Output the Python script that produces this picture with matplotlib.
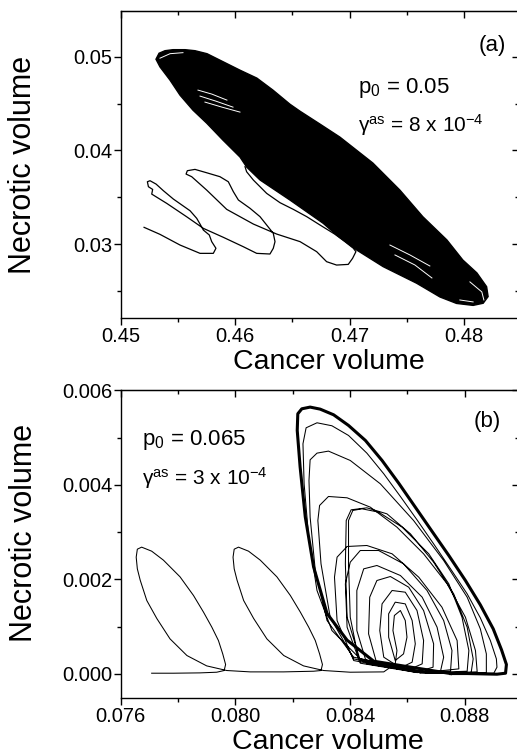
import matplotlib
matplotlib.use('Agg')
from matplotlib import pyplot as plt
from matplotlib.ticker import MultipleLocator, FormatStrFormatter, NullFormatter

plt.rcParams['font.family'] = ['Liberation Sans', 'DejaVu Sans']
plt.rcParams['mathtext.default'] = 'regular'

# ---- panel (a): p0 = 0.05, gamma_as = 8e-4 ----
# outline of the densely filled attractor band
band_a_cancer = [0.45308, 0.45335, 0.45387, 0.45457, 0.45562, 0.45649, 0.45754, 0.45893, 0.46042,
                 0.46190, 0.46330, 0.46478, 0.46566, 0.46741, 0.46915, 0.47203, 0.47439, 0.47640,
                 0.47850, 0.47989, 0.48112, 0.48197, 0.48210, 0.48167, 0.48079, 0.47934, 0.47789,
                 0.47585, 0.47293, 0.47061, 0.46886, 0.46769, 0.46478, 0.46217, 0.46100, 0.46042,
                 0.45893, 0.45751, 0.45631, 0.45518, 0.45431, 0.45343]
band_a_necrotic = [0.04975, 0.05039, 0.05066, 0.05077, 0.05077, 0.05066, 0.05034, 0.04949, 0.04858,
                   0.04773, 0.04645, 0.04495, 0.04420, 0.04282, 0.04143, 0.03866, 0.03577, 0.03292,
                   0.03044, 0.02830, 0.02692, 0.02545, 0.02439, 0.02368, 0.02345, 0.02366, 0.02435,
                   0.02582, 0.02759, 0.02937, 0.03097, 0.03222, 0.03471, 0.03685, 0.03823, 0.03930,
                   0.04111, 0.04292, 0.04431, 0.04591, 0.04751, 0.04893]

# gaps between orbits inside the band
gaps_a = [
    [(0.45675, 0.04645), (0.45797, 0.04602), (0.45928, 0.04538)],
    [(0.45693, 0.04581), (0.45832, 0.04527), (0.45981, 0.04463)],
    [(0.45736, 0.04517), (0.45885, 0.04463), (0.46042, 0.04410)],
    [(0.45343, 0.04986), (0.45431, 0.05034), (0.45544, 0.05045)],
    [(0.47352, 0.02990), (0.47527, 0.02884), (0.47701, 0.02766)],
    [(0.47396, 0.02884), (0.47570, 0.02777), (0.47719, 0.02638)],
    [(0.48051, 0.02596), (0.48155, 0.02489), (0.48173, 0.02403)],
    [(0.47963, 0.02403), (0.48079, 0.02382)],
]

# transient before reaching the attractor
transient_a_cancer = [0.45204, 0.45343, 0.45518, 0.45693, 0.45809, 0.45832, 0.45795, 0.45774, 0.45722,
                      0.45693, 0.45664, 0.45606, 0.45460, 0.45373, 0.45309, 0.45256, 0.45233, 0.45242,
                      0.45279, 0.45271, 0.45402, 0.45576, 0.45722, 0.45897, 0.46071, 0.46188, 0.46304,
                      0.46333, 0.46348, 0.46333, 0.46275, 0.46217, 0.46130, 0.46028, 0.45984, 0.45940,
                      0.45867, 0.45751, 0.45649, 0.45582, 0.45571, 0.45620, 0.45751, 0.45926, 0.46159,
                      0.46363, 0.46567, 0.46712, 0.46799, 0.46886, 0.46988, 0.47026, 0.47055, 0.47032,
                      0.46959, 0.46872, 0.46741, 0.46625, 0.46508, 0.46392, 0.46275, 0.46159, 0.46100,
                      0.46086]
transient_a_necrotic = [0.03179, 0.03104, 0.02990, 0.02901, 0.02901, 0.02955, 0.03026, 0.03097, 0.03150,
                        0.03214, 0.03275, 0.03356, 0.03481, 0.03570, 0.03641, 0.03677, 0.03666, 0.03613,
                        0.03584, 0.03534, 0.03435, 0.03292, 0.03168, 0.03072, 0.02972, 0.02901, 0.02894,
                        0.02955, 0.03026, 0.03115, 0.03204, 0.03293, 0.03382, 0.03471, 0.03560, 0.03666,
                        0.03720, 0.03762, 0.03798, 0.03784, 0.03748, 0.03720, 0.03577, 0.03371, 0.03214,
                        0.03107, 0.03026, 0.02919, 0.02812, 0.02776, 0.02783, 0.02848, 0.02919, 0.02956,
                        0.03026, 0.03105, 0.03204, 0.03293, 0.03371, 0.03442, 0.03542, 0.03684, 0.03773,
                        0.03827]

# ---- panel (b): p0 = 0.065, gamma_as = 3e-4 ----
transient_b_cancer = [0.07708, 0.07784, 0.07877, 0.07935, 0.07961, 0.07966, 0.07956, 0.07941, 0.07918,
                      0.07889, 0.07854, 0.07807, 0.07749, 0.07708, 0.07673, 0.07658, 0.07654, 0.07658,
                      0.07668, 0.07691, 0.07726, 0.07772, 0.07831, 0.07900, 0.07970,
                      0.08052, 0.08168, 0.08273, 0.08299,
                      0.08304, 0.08294, 0.08279, 0.08256, 0.08227, 0.08192, 0.08145, 0.08087, 0.08046,
                      0.08011, 0.07996, 0.07992, 0.07996, 0.08006, 0.08029, 0.08064, 0.08110, 0.08169,
                      0.08238, 0.08308, 0.08401, 0.08518, 0.08558]
transient_b_necrotic = [0.000014, 0.000014, 0.000021, 0.000035, 0.000071, 0.000198, 0.000423, 0.000705,
                        0.000988, 0.001305, 0.001658, 0.002053, 0.002406, 0.002596, 0.002681, 0.002638,
                        0.002469, 0.002222, 0.001982, 0.001552, 0.001171, 0.000741, 0.000388, 0.000169,
                        0.000071,
                        0.000042, 0.000042, 0.000056, 0.000071,
                        0.000198, 0.000423, 0.000705, 0.000988, 0.001305, 0.001658, 0.002053, 0.002406,
                        0.002596, 0.002681, 0.002638, 0.002469, 0.002222, 0.001982, 0.001552, 0.001171,
                        0.000741, 0.000388, 0.000169, 0.000071, 0.000035, 0.000042, 0.000212]

# successive turns of the spiral, innermost first
turns_b = [
    [(0.08564, 0.000494), (0.08550, 0.000917), (0.08555, 0.001235), (0.08576, 0.001340),
     (0.08593, 0.001129), (0.08599, 0.000776), (0.08587, 0.000423)],
    [(0.08558, 0.000282), (0.08535, 0.000776), (0.08535, 0.001270), (0.08558, 0.001517),
     (0.08593, 0.001481), (0.08617, 0.001129), (0.08628, 0.000635), (0.08617, 0.000247)],
    [(0.08576, 0.000127), (0.08518, 0.000353), (0.08504, 0.000917), (0.08512, 0.001481),
     (0.08547, 0.001764), (0.08593, 0.001728), (0.08634, 0.001340), (0.08657, 0.000705),
     (0.08652, 0.000212)],
    [(0.08599, 0.000071), (0.08494, 0.000212), (0.08465, 0.000847), (0.08469, 0.001623),
     (0.08494, 0.001975), (0.08541, 0.002060), (0.08605, 0.001834), (0.08657, 0.001340),
     (0.08692, 0.000635), (0.08690, 0.000141)],
    [(0.08634, 0.000042), (0.08459, 0.000212), (0.08424, 0.000917), (0.08424, 0.001764),
     (0.08448, 0.002222), (0.08494, 0.002293), (0.08576, 0.002081), (0.08652, 0.001623),
     (0.08704, 0.000988), (0.08727, 0.000353), (0.08716, 0.000056)],
    [(0.08634, 0.000028), (0.08436, 0.000226), (0.08390, 0.000988), (0.08384, 0.001905),
     (0.08401, 0.002363), (0.08436, 0.002610), (0.08500, 0.002610), (0.08587, 0.002328),
     (0.08669, 0.001764), (0.08727, 0.001129), (0.08756, 0.000494), (0.08751, 0.000056)],
    [(0.08634, 0.000028), (0.08413, 0.000282), (0.08355, 0.001129), (0.08346, 0.002046),
     (0.08355, 0.002469), (0.08390, 0.002695), (0.08459, 0.002716), (0.08547, 0.002540),
     (0.08640, 0.002046), (0.08721, 0.001411), (0.08774, 0.000705), (0.08780, 0.000106)],
    [(0.08646, 0.000021), (0.08430, 0.000317), (0.08401, 0.001199), (0.08395, 0.002328),
     (0.08395, 0.003245), (0.08410, 0.003457), (0.08442, 0.003492), (0.08500, 0.003422),
     (0.08582, 0.003104), (0.08675, 0.002540), (0.08745, 0.001905), (0.08791, 0.001199),
     (0.08815, 0.000494), (0.08809, 0.000056)],
    [(0.08646, 0.000021), (0.08436, 0.000282), (0.08390, 0.001199), (0.08384, 0.002328),
     (0.08387, 0.003245), (0.08404, 0.003471), (0.08459, 0.003513), (0.08529, 0.003386),
     (0.08611, 0.002963), (0.08692, 0.002363), (0.08762, 0.001693), (0.08809, 0.000988),
     (0.08830, 0.000317), (0.08823, 0.000028)],
    [(0.08657, 0.000021), (0.08413, 0.000317), (0.08331, 0.001199), (0.08299, 0.002328),
     (0.08288, 0.003245), (0.08294, 0.003563), (0.08325, 0.003753), (0.08390, 0.003725),
     (0.08471, 0.003527), (0.08564, 0.003104), (0.08657, 0.002540), (0.08739, 0.001905),
     (0.08803, 0.001199), (0.08838, 0.000494), (0.08844, 0.000042)],
    [(0.08669, 0.000014), (0.08413, 0.000353), (0.08320, 0.001129), (0.08279, 0.002187),
     (0.08261, 0.003316), (0.08257, 0.004092), (0.08261, 0.004529), (0.08285, 0.004670),
     (0.08325, 0.004713), (0.08401, 0.004515), (0.08506, 0.004021), (0.08622, 0.003245),
     (0.08727, 0.002399), (0.08809, 0.001623), (0.08855, 0.000952), (0.08876, 0.000423),
     (0.08876, 0.000028)],
    [(0.08692, 0.000014), (0.08436, 0.000317), (0.08337, 0.000917), (0.08285, 0.001764),
     (0.08256, 0.002892), (0.08240, 0.004021), (0.08236, 0.004868), (0.08247, 0.005206),
     (0.08285, 0.005312), (0.08337, 0.005249), (0.08395, 0.005044), (0.08459, 0.004670),
     (0.08518, 0.004233), (0.08576, 0.003753), (0.08634, 0.003259), (0.08692, 0.002751),
     (0.08751, 0.002222), (0.08809, 0.001693), (0.08855, 0.001185), (0.08890, 0.000705),
     (0.08911, 0.000317), (0.08913, 0.000141), (0.08902, 0.000014)],
]

# outer limit cycle (traversed many times)
cycle_b_cancer = [0.08751, 0.08483, 0.08390, 0.08320, 0.08273, 0.08244, 0.08226, 0.08216, 0.08218,
                  0.08232, 0.08261, 0.08296, 0.08343, 0.08395, 0.08454, 0.08512, 0.08570, 0.08628,
                  0.08686, 0.08745, 0.08803, 0.08855, 0.08900, 0.08929, 0.08946, 0.08943, 0.08913,
                  0.08809, 0.08751]
cycle_b_necrotic = [0.000007, 0.000268, 0.000713, 0.001277, 0.002265, 0.003323, 0.004381, 0.005150,
                    0.005503, 0.005608, 0.005644, 0.005601, 0.005481, 0.005256, 0.004938, 0.004515,
                    0.004035, 0.003527, 0.003019, 0.002504, 0.001975, 0.001460, 0.000952, 0.000508,
                    0.000198, 0.000014, -0.000007, 0.000007, 0.000007]


def style_axes(ax, xlim, ylim, xmaj, xmin, ymaj, ymin, xfmt, yfmt):
    ax.set_xlim(xlim)
    ax.set_ylim(ylim)
    ax.xaxis.set_major_locator(MultipleLocator(xmaj))
    ax.xaxis.set_minor_locator(MultipleLocator(xmin))
    ax.yaxis.set_major_locator(MultipleLocator(ymaj))
    ax.yaxis.set_minor_locator(MultipleLocator(ymin))
    ax.xaxis.set_major_formatter(FormatStrFormatter(xfmt))
    ax.yaxis.set_major_formatter(FormatStrFormatter(yfmt))
    ax.tick_params(which='both', direction='out', width=1.0, labelsize=14.5)
    ax.tick_params(which='major', length=5)
    ax.tick_params(which='minor', length=3)
    ax.tick_params(axis='y', pad=1)
    ax.tick_params(axis='x', pad=1.5)
    for s in ax.spines.values():
        s.set_linewidth(1.0)
    # inward ticks on the top and right sides
    top = ax.secondary_xaxis('top')
    top.xaxis.set_major_locator(MultipleLocator(xmaj))
    top.xaxis.set_minor_locator(MultipleLocator(xmin))
    top.xaxis.set_major_formatter(NullFormatter())
    top.tick_params(which='both', direction='in', width=1.0)
    top.tick_params(which='major', length=5)
    top.tick_params(which='minor', length=3)
    right = ax.secondary_yaxis('right')
    right.yaxis.set_major_locator(MultipleLocator(ymaj))
    right.yaxis.set_minor_locator(MultipleLocator(ymin))
    right.yaxis.set_major_formatter(NullFormatter())
    right.tick_params(which='both', direction='in', width=1.0)
    right.tick_params(which='major', length=5)
    right.tick_params(which='minor', length=3)


fig = plt.figure(figsize=(5.17, 7.54), dpi=100)
ax1 = fig.add_axes([0.2335, 0.5782, 0.7704, 0.4072])
ax2 = fig.add_axes([0.2335, 0.0743, 0.7704, 0.4081])

# panel (a)
ax1.fill(band_a_cancer, band_a_necrotic, color='black', lw=1.0)
for g in gaps_a:
    ax1.plot([p[0] for p in g], [p[1] for p in g], color='white', lw=0.7)
ax1.plot(transient_a_cancer, transient_a_necrotic, color='black', lw=0.9)
style_axes(ax1, (0.45, 0.4848), (0.0221, 0.0549), 0.01, 0.005, 0.01, 0.005, '%.2f', '%.2f')
ax1.set_xlabel('Cancer volume', fontsize=20.5)
ax1.set_ylabel('Necrotic volume', fontsize=22)
ax1.xaxis.set_label_coords(0.523, -0.1)
ax1.yaxis.set_label_coords(-0.208, 0.498)
ax1.text(0.932, 0.889, '(a)', transform=ax1.transAxes, fontsize=16, ha='center', va='center')
ax1.text(0.596, 0.749, 'p$_0$ = 0.05', transform=ax1.transAxes, fontsize=16, va='center')
ax1.text(0.596, 0.629, 'γ$^{as}$ = 8 x 10$^{-4}$', transform=ax1.transAxes, fontsize=15, va='center')

# panel (b)
ax2.plot(transient_b_cancer, transient_b_necrotic, color='black', lw=0.75)
spiral_x = [transient_b_cancer[-1]]
spiral_y = [transient_b_necrotic[-1]]
for turn in turns_b:
    spiral_x += [p[0] for p in turn]
    spiral_y += [p[1] for p in turn]
spiral_x.append(cycle_b_cancer[0])
spiral_y.append(cycle_b_necrotic[0])
ax2.plot(spiral_x, spiral_y, color='black', lw=0.75)
ax2.plot(cycle_b_cancer, cycle_b_necrotic, color='black', lw=2.2, solid_joinstyle='round')
style_axes(ax2, (0.076, 0.0899), (-0.00051, 0.006), 0.004, 0.002, 0.002, 0.001, '%.3f', '%.3f')
ax2.set_xlabel('Cancer volume', fontsize=20.5)
ax2.set_ylabel('Necrotic volume', fontsize=22)
ax2.xaxis.set_label_coords(0.52, -0.1)
ax2.yaxis.set_label_coords(-0.205, 0.535)
ax2.text(0.921, 0.900, '(b)', transform=ax2.transAxes, fontsize=16, ha='center', va='center')
ax2.text(0.053, 0.840, 'p$_0$ = 0.065', transform=ax2.transAxes, fontsize=16, va='center')
ax2.text(0.053, 0.716, 'γ$^{as}$ = 3 x 10$^{-4}$', transform=ax2.transAxes, fontsize=15, va='center')

fig.savefig('out.png', dpi=100)
